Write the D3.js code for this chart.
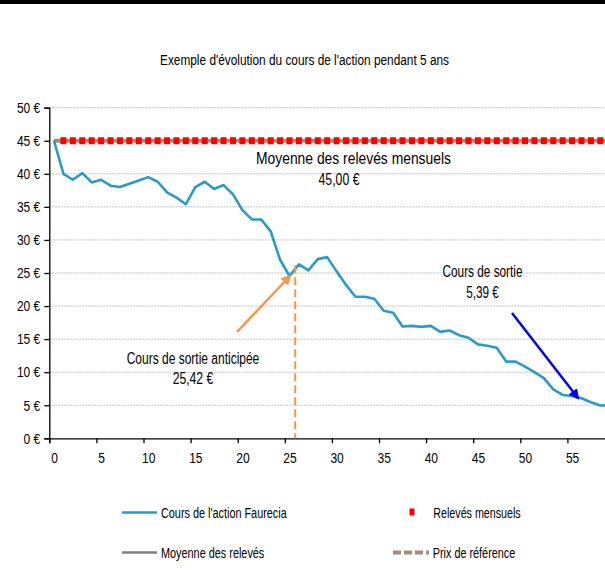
<!DOCTYPE html>
<html><head><meta charset="utf-8">
<script src="https://cdn.jsdelivr.net/npm/d3@7/dist/d3.min.js"></script>
<style>
body{margin:0;background:#fff;}
svg{display:block;}
text{font-family:"Liberation Sans",Arial,sans-serif;fill:#000;}
</style></head>
<body><svg id="c" width="605" height="581"></svg>
<script>
const title = "Exemple d'évolution du cours de l'action pendant 5 ans";
const prices = [45.0,40.0,39.1,40.1,38.7,39.1,38.2,38.0,38.5,39.0,
  39.5,38.8,37.2,36.4,35.4,38.0,38.8,37.7,38.3,36.9,
  34.5,33.1,33.1,31.3,27.0,24.55,26.3,25.4,27.1,27.4,
  25.25,23.2,21.4,21.4,21.1,19.3,19.0,16.9,17.0,16.85,
  17.0,16.1,16.3,15.6,15.2,14.2,14.0,13.7,11.6,11.6,
  10.85,10.0,9.1,7.4,6.55,6.4,6.05,5.45,4.95,5.0];
const releves = [45,45,45,45,45,45,45,45,45,45,45,45,45,45,45,45,45,45,45,45,
  45,45,45,45,45,45,45,45,45,45,45,45,45,45,45,45,45,45,45,45,
  45,45,45,45,45,45,45,45,45,45,45,45,45,45,45,45,45,45,45];
const moyenne = 45.00;
const prixReference = 45.00;
const sortieAnticipee = 25.42;
const sortieAnticipeeMois = 26;
const coursSortie = 5.39;
const xTicks = [0,5,10,15,20,25,30,35,40,45,50,55];
const yTicks = [0,5,10,15,20,25,30,35,40,45,50];
const legendItems = ["Cours de l'action Faurecia","Relevés mensuels","Moyenne des relevés","Prix de référence"];

const svg = d3.select("#c");
const L = 49.3, B = 438.3, T = 107.7, unit = 9.42;
const x = d3.scaleLinear().domain([0,60]).range([L, L+60*unit]);
const y = d3.scaleLinear().domain([0,50]).range([B, T]);
const cx = k => x(k+0.5);

function fit(sel, w){ sel.attr("textLength", w).attr("lengthAdjust","spacingAndGlyphs"); }
function squeeze(sel, f){ sel.each(function(){ const n=this; const w=n.getComputedTextLength(); d3.select(n).attr("textLength",w*f).attr("lengthAdjust","spacingAndGlyphs"); }); }

// top black band
svg.append("rect").attr("x",0).attr("y",0).attr("width",605).attr("height",4).attr("fill","#000");

// title
fit(svg.append("text").attr("x",304.5).attr("y",65).attr("text-anchor","middle").attr("font-size",14).text(title), 289);

// grid
svg.append("g").selectAll("line").data(yTicks.filter(d=>d>0)).join("line")
  .attr("x1",L).attr("x2",605).attr("y1",d=>y(d)).attr("y2",d=>y(d))
  .attr("stroke","#c0c0c0").attr("stroke-width",1).attr("stroke-dasharray","2,1");

// y axis
const ya = svg.append("g").attr("transform",`translate(${L},0)`)
  .call(d3.axisLeft(y).tickValues(yTicks).tickSize(5).tickPadding(4).tickFormat(d=>d+" €"));
ya.select(".domain").attr("stroke","#000").attr("stroke-width",1.3);
ya.selectAll(".tick line").attr("stroke","#000").attr("stroke-width",1.3);
ya.selectAll("text").attr("font-size",15).attr("font-family",null);
squeeze(ya.selectAll("text"), 0.8);

// x axis
const xa = svg.append("g").attr("transform",`translate(0,${B})`)
  .call(d3.axisBottom(x).tickValues(xTicks).tickSize(5).tickPadding(9).tickFormat(d=>d));
xa.select(".domain").attr("stroke","#000").attr("stroke-width",1.3);
xa.selectAll(".tick line").attr("stroke","#000").attr("stroke-width",1.3);
xa.selectAll("text").attr("font-size",15).attr("font-family",null).attr("dx",unit/2);
squeeze(xa.selectAll("text"), 0.8);

// moyenne (gray) and prix de reference (brown)
svg.append("line").attr("x1",cx(0)).attr("x2",605).attr("y1",y(moyenne)).attr("y2",y(moyenne))
  .attr("stroke","#808080").attr("stroke-width",2.5);
svg.append("line").attr("x1",cx(0)).attr("x2",605).attr("y1",y(prixReference)).attr("y2",y(prixReference))
  .attr("stroke","#a28d78").attr("stroke-width",4);

// price line
svg.append("path").datum(prices)
  .attr("d",d3.line().x((d,i)=>cx(i)).y(d=>y(d)))
  .attr("fill","none").attr("stroke","#2a9bc8").attr("stroke-width",2.6).attr("stroke-linejoin","round");

// releves markers
svg.append("g").selectAll("rect").data(releves).join("rect")
  .attr("x",(d,i)=>cx(i+1)-3).attr("y",d=>y(d)-3.5).attr("width",6).attr("height",7).attr("fill","#ff0000");

// markers defs
const defs = svg.append("defs");
function arrowHead(id,color){
  defs.append("marker").attr("id",id).attr("viewBox","0 0 10 10").attr("refX",8).attr("refY",5)
    .attr("markerWidth",4.2).attr("markerHeight",4.2).attr("orient","auto")
    .append("path").attr("d","M0,0 L10,5 L0,10 z").attr("fill",color);
}
arrowHead("ao","#f79646");
arrowHead("ab","#0000ff");

// sortie anticipee dashed
svg.append("line").attr("x1",x(sortieAnticipeeMois)+1).attr("x2",x(sortieAnticipeeMois)+1)
  .attr("y1",y(sortieAnticipee)-5).attr("y2",B)
  .attr("stroke","#f79646").attr("stroke-width",2).attr("stroke-dasharray","8,4");

// arrows
svg.append("line").attr("x1",237).attr("y1",332).attr("x2",290).attr("y2",276)
  .attr("stroke","#f79646").attr("stroke-width",2.5).attr("marker-end","url(#ao)");
svg.append("line").attr("x1",512).attr("y1",313).attr("x2",578).attr("y2",398)
  .attr("stroke","#0000ff").attr("stroke-width",2.5).attr("marker-end","url(#ab)");

// annotations
const fmt = v => v.toFixed(2).replace(".",",")+" €";
function ann(x0,y0,t,w){ fit(svg.append("text").attr("x",x0).attr("y",y0).attr("text-anchor","middle").attr("font-size",16).text(t), w); }
ann(353.5,164,"Moyenne des relevés mensuels",195);
ann(339,185,fmt(moyenne),41);
ann(193,363.5,"Cours de sortie anticipée",132.6);
ann(193,383.5,fmt(sortieAnticipee),40.6);
ann(482.5,277,"Cours de sortie",80);
ann(482.5,297.5,fmt(coursSortie),32.7);

// legend
const lg = svg.append("g");
function ltext(x0,y0,t,w){ fit(lg.append("text").attr("x",x0).attr("y",y0).attr("font-size",15).text(t), w); }
lg.append("line").attr("x1",122).attr("x2",157).attr("y1",512.5).attr("y2",512.5).attr("stroke","#2a9bc8").attr("stroke-width",2.5);
ltext(161,518,legendItems[0],125.7);
lg.append("rect").attr("x",409.5).attr("y",508.5).attr("width",5).attr("height",7).attr("fill","#ff0000");
ltext(433.3,518,legendItems[1],87.4);
lg.append("line").attr("x1",122).attr("x2",157).attr("y1",552.5).attr("y2",552.5).attr("stroke","#808080").attr("stroke-width",2.5);
ltext(161,558,legendItems[2],103.3);
lg.append("line").attr("x1",393).attr("x2",430).attr("y1",552.5).attr("y2",552.5).attr("stroke","#a28d78").attr("stroke-width",4).attr("stroke-dasharray","8,3,8,3,8,3,3,3");
ltext(432.7,558,legendItems[3],82.6);
</script></body></html>
